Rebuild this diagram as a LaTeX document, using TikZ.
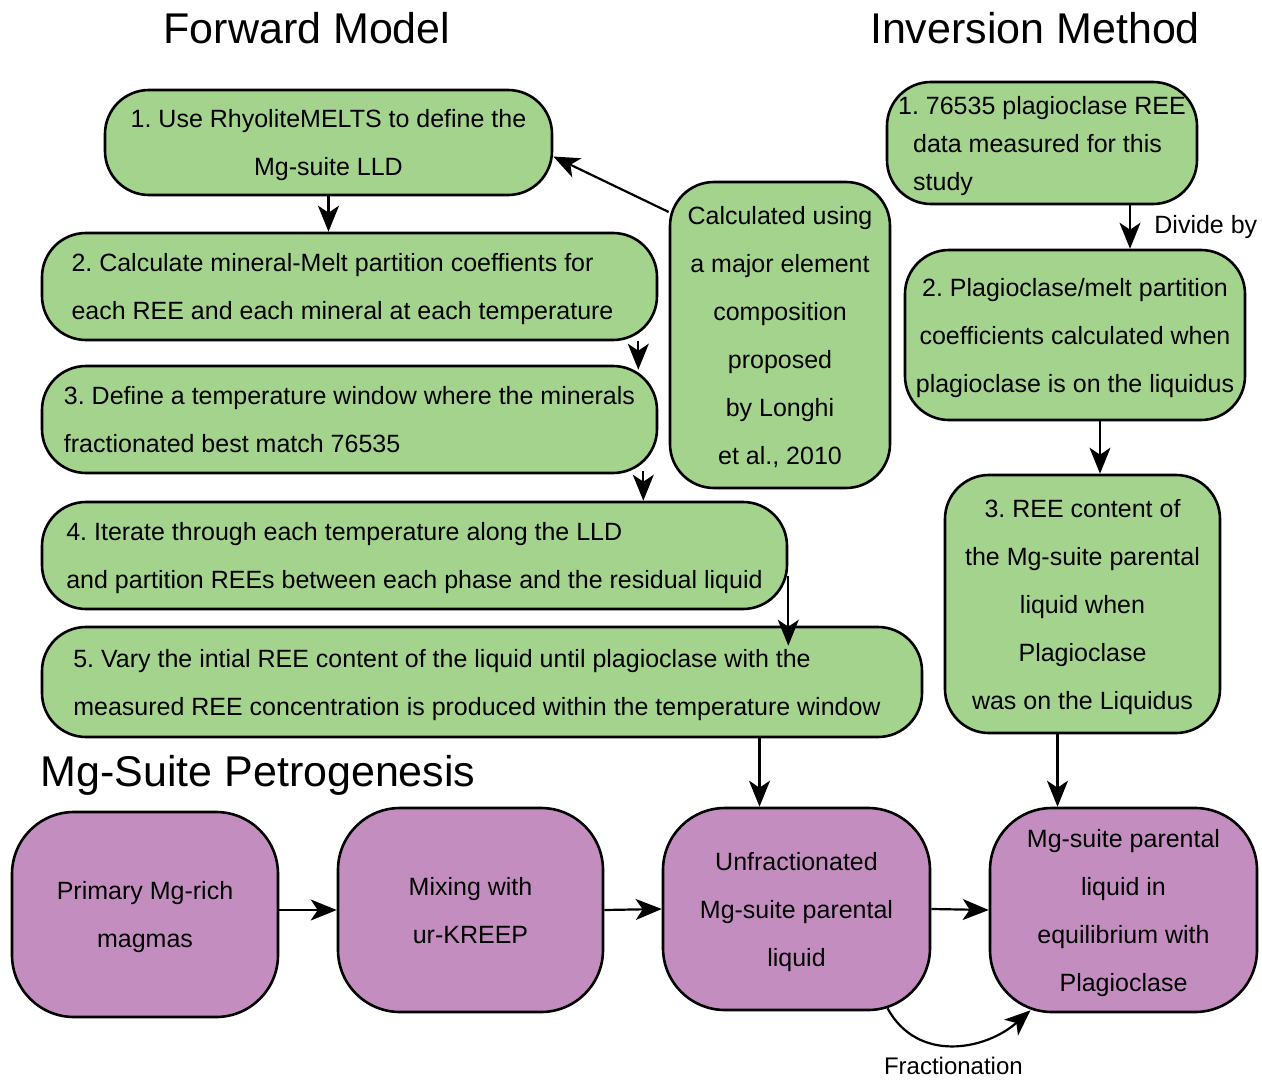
\documentclass[tikz,border=0pt]{standalone}
\usepackage{fontspec}
\setmainfont{Liberation Sans}
\usetikzlibrary{arrows.meta}
\definecolor{stepgreen}{RGB}{164,211,141}
\definecolor{magmapurple}{RGB}{196,141,192}
\frenchspacing
\begin{document}
\begin{tikzpicture}[
  x=1pt,y=-1pt,
  font=\fontsize{25}{48}\selectfont,
  heading/.style={font=\fontsize{43}{45}\selectfont},
  fwd/.style={draw=black,line width=2.6pt,fill=stepgreen,rounded corners=44pt,
              inner sep=0pt,text depth=-5pt,align=left},
  inv/.style={fwd,align=center},
  petro/.style={draw=black,line width=2.6pt,fill=magmapurple,rounded corners=62pt,
                inner sep=0pt,text depth=-6pt,align=center},
  flow/.style={-{Stealth[length=26pt,width=21pt,inset=7pt]},line width=2.2pt}
]
  \useasboundingbox (0,0) rectangle (1262,1081);

  \node[heading] (hfwd) at (307,28) {Forward Model};
  \node[heading] (hinv) at (1035,28) {Inversion Method};
  \node[heading,anchor=west] (hpet) at (37,775) {Mg-Suite Petrogenesis};

  % forward model
  \node[fwd,align=center,minimum width=447pt,minimum height=105pt] (f1) at (328.5,142.5)
    {1. Use RhyoliteMELTS to define the\\Mg-suite LLD};
  \node[fwd,minimum width=615pt,minimum height=107pt] (f2) at (349.5,286.5)
    {2. Calculate mineral-Melt partition coeffients for\\each REE and each mineral at each temperature\hspace*{14pt}};
  \node[fwd,minimum width=615pt,minimum height=107pt] (f3) at (349.5,419.5)
    {3. Define a temperature window where the minerals\\fractionated best match 76535};
  \node[fwd,minimum width=745pt,minimum height=107pt] (f4) at (414.5,555.5)
    {4. Iterate through each temperature along the LLD\\and partition REEs between each phase and the residual liquid};
  \node[fwd,minimum width=880pt,minimum height=110pt] (f5) at (482,682)
    {5. Vary the intial REE content of the liquid until plagioclase with the\\measured REE concentration is produced within the temperature window\hspace*{10pt}};
  \node[inv,minimum width=220pt,minimum height=306pt] (calc) at (780,335)
    {Calculated using\\a major element\\composition\\proposed\\by Longhi\\et al., 2010};

  \draw[flow] (f1.south) -- (f1.south |- f2.north);
  \draw[flow] ([xshift=-20pt]f2.south east) -- ([xshift=-20pt,yshift=-5pt]f3.north east);
  \draw[flow] ([xshift=-15pt,yshift=3pt]f3.south east) -- ([xshift=-15pt]f3.south east |- f4.north);
  \draw[flow] ([yshift=-20pt]f4.east) -- ([yshift=-20pt]f4.east |- f5.north);
  \draw[flow] ([yshift=123pt]calc.west) -- ([yshift=-14pt]f1.east);

  % inversion method
  \node[fwd,font=\fontsize{25}{38}\selectfont,minimum width=310pt,minimum height=122pt] (i1) at (1042,143)
    {1. 76535 plagioclase REE\\\hspace*{15pt}data measured for this\\\hspace*{15pt}study};
  \node[inv,minimum width=340pt,minimum height=170pt] (i2) at (1075,335)
    {2. Plagioclase/melt partition\\coefficients calculated when\\plagioclase is on the liquidus};
  \node[inv,minimum width=275pt,minimum height=258pt] (i3) at (1082.5,604)
    {3. REE content of\\the Mg-suite parental\\liquid when\\Plagioclase\\was on the Liquidus};

  \draw[flow] ([xshift=88pt]i1.south) -- ([xshift=88pt]i1.south |- i2.north)
    node[midway,right=20pt] {Divide by};
  \draw[flow] ([xshift=25pt]i2.south) -- ([xshift=25pt]i2.south |- i3.north);

  % petrogenesis
  \node[petro,minimum width=266pt,minimum height=205pt] (p1) at (145,914.5)
    {Primary Mg-rich\\magmas};
  \node[petro,minimum width=265pt,minimum height=204pt] (p2) at (470.5,910)
    {Mixing with\\ur-KREEP};
  \node[petro,minimum width=267pt,minimum height=202pt] (p3) at (796.5,909)
    {Unfractionated\\Mg-suite parental\\liquid};
  \node[petro,minimum width=267pt,minimum height=204pt] (p4) at (1123.5,910)
    {Mg-suite parental\\liquid in\\equilibrium with\\Plagioclase};

  \draw[flow] (p1.east |- p2) -- (p2.west);
  \draw[flow] (p2.east) -- (p3.west);
  \draw[flow] (p3.east) -- (p4.west);
  \draw[flow] ([xshift=-37pt]p3.north |- f5.south) -- ([xshift=-37pt]p3.north);
  \draw[flow] ([xshift=-25pt]i3.south) -- ([xshift=-25pt]i3.south |- p4.north);
  \draw[flow] ([xshift=91pt,yshift=3pt]p3.south)
    .. controls +(30,55) and +(-45,40) .. ([xshift=-93pt,yshift=3pt]p4.south)
    node[pos=0.5,below=8pt,font=\fontsize{24}{26}\selectfont] (fraclab) {Fractionation};
\end{tikzpicture}
\end{document}
